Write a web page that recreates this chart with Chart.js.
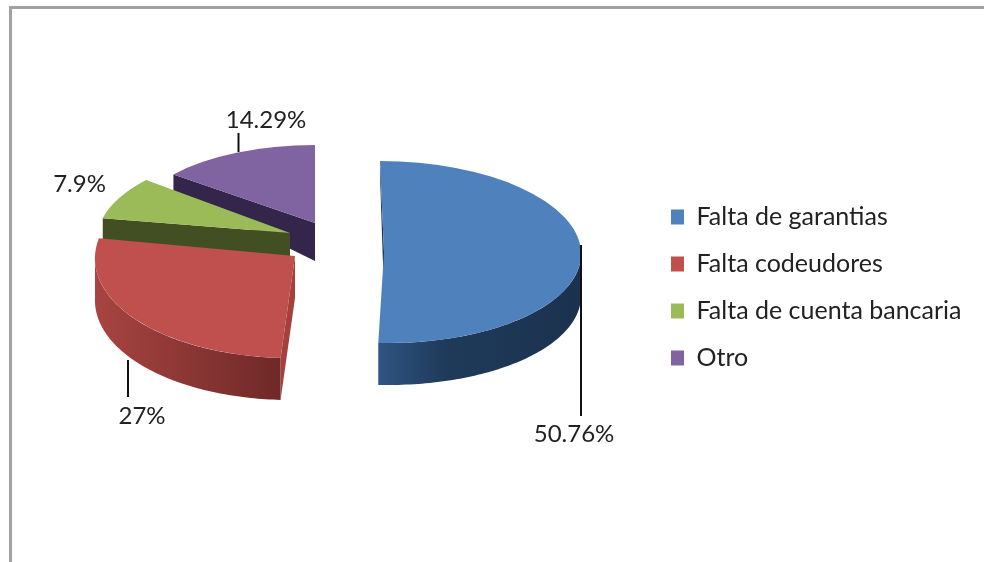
<!DOCTYPE html>
<html><head><meta charset="utf-8">
<style>html,body{margin:0;padding:0;background:#fff}canvas{display:block}</style>
<script src="https://cdn.jsdelivr.net/npm/chart.js@4"></script>
</head><body>
<canvas id="c" width="984" height="562"></canvas>
<script>
const categories = ["Falta de garantias", "Falta codeudores", "Falta de cuenta bancaria", "Otro"];
const values = [50.76, 27, 7.9, 14.29];
const colors = ["#4f81bd", "#c0504d", "#9bbb59", "#8064a2"];

// drawing geometry of the tilted, exploded slices
const FORM = [
  {x:384, y:252, rx:197, ry:91,  k:0.044},
  {x:295, y:256, rx:200, ry:102, k:-0.045},
  {x:290, y:233, rx:192, ry:85,  k:-0.12},
  {x:315, y:223, rx:181, ry:78,  k:0}
];
const FACE = ["#1b324e", "#a5403d", "#414f22", "#33264a"];
const RIM = [
  [[378,"#2f5582"],[445,"#1f3a5a"],[581,"#1b324e"]],
  [[95,"#a84441"],[281,"#6e2928"]],
  null, null
];
const LABEL_AT = [[574,434],[142,416],[79.5,184],[266,120]];
const LEADERS = [[581,245,581,416],[128,360,128,397],[238.5,133,238.5,152]];
const FONT = "Lato, 'Open Sans', sans-serif";
const depth = y => Math.max(14, Math.min(42, 16 + (y - 172) * 0.43));

function project(arc, i, theta){
  const f = FORM[i];
  const ux = Math.cos(theta), uy = Math.sin(theta);
  return [f.x + f.rx*ux + f.k*f.ry*uy, f.y + f.ry*uy];
}

const tilt3d = {
  id: "tilt3d",
  beforeDraw(chart){
    const {ctx, width, height} = chart;
    ctx.save();
    ctx.fillStyle = "#fff"; ctx.fillRect(0,0,width,height);
    ctx.fillStyle = "#a2a2a2";
    ctx.fillRect(10,6,width-10,3);
    ctx.fillRect(9,6,3,height-6);
    ctx.restore();
  },
  afterLayout(chart){
    const l = chart.legend;
    const p = l.options.labels.padding;
    l.left = 671 - p; l.right = l.left + l.width;
    l.top = 204.5 - p; l.bottom = l.top + l.height;
  },
  beforeDatasetsDraw(chart){
    const {ctx} = chart;
    const arcs = chart.getDatasetMeta(0).data;
    arcs.forEach((arc,i)=>{
      if (arc.__tilted) return;
      const orig = arc.draw;
      arc.draw = function(c, area){
        const f = FORM[i], R = this.outerRadius;
        c.save();
        c.transform(f.rx/R, 0, f.k*f.ry/R, f.ry/R, f.x, f.y);
        c.translate(-this.x, -this.y);
        orig.call(this, c, area);
        c.restore();
      };
      arc.__tilted = true;
    });
    for (let i = arcs.length-1; i >= 0; i--){
      const arc = arcs[i], f = FORM[i];
      // flat cut face along the slice's starting edge
      const corner = project(arc,i,arc.startAngle);
      ctx.beginPath();
      ctx.moveTo(f.x,f.y);
      ctx.lineTo(f.x,f.y+depth(f.y));
      ctx.lineTo(corner[0],corner[1]+depth(corner[1]));
      ctx.lineTo(corner[0],corner[1]);
      ctx.closePath();
      ctx.fillStyle = FACE[i];
      ctx.fill();
      // curved outer rim, front half only
      const a0 = Math.max(arc.startAngle,0), a1 = Math.min(arc.endAngle,Math.PI);
      if (RIM[i] && a1 > a0){
        const stops = RIM[i];
        const x0 = stops[0][0], x1 = stops[stops.length-1][0];
        const g = ctx.createLinearGradient(x0,0,x1,0);
        stops.forEach(s=>g.addColorStop((s[0]-x0)/(x1-x0),s[1]));
        const top=[];
        for(let n=0;n<=80;n++) top.push(project(arc,i,a0+(a1-a0)*n/80));
        ctx.beginPath();
        top.forEach((p,n)=> n?ctx.lineTo(p[0],p[1]):ctx.moveTo(p[0],p[1]));
        top.slice().reverse().forEach(p=>ctx.lineTo(p[0],p[1]+depth(p[1])));
        ctx.closePath();
        ctx.fillStyle = g;
        ctx.fill();
      }
    }
  },
  afterDatasetsDraw(chart){
    const {ctx} = chart;
    ctx.save();
    ctx.strokeStyle = "#111"; ctx.lineWidth = 2;
    LEADERS.forEach(s=>{ctx.beginPath();ctx.moveTo(s[0],s[1]);ctx.lineTo(s[2],s[3]);ctx.stroke();});
    ctx.fillStyle = "#222";
    ctx.font = "24px " + FONT;
    ctx.textAlign = "center"; ctx.textBaseline = "middle";
    values.forEach((v,i)=>ctx.fillText(v + "%", LABEL_AT[i][0], LABEL_AT[i][1]));
    ctx.restore();
  }
};

new Chart(document.getElementById("c"), {
  type: "pie",
  data: { labels: categories, datasets: [{ data: values, backgroundColor: colors, borderWidth: 0, radius: 100 }] },
  options: {
    responsive: false,
    animation: false,
    plugins: {
      tooltip: {enabled:false},
      legend: {
        position: "right",
        align: "start",
        labels: { boxWidth: 13, boxHeight: 15, padding: 22, color: "#222", font: {family: FONT, size: 25} }
      }
    }
  },
  plugins: [tilt3d]
});
</script>
</body></html>
